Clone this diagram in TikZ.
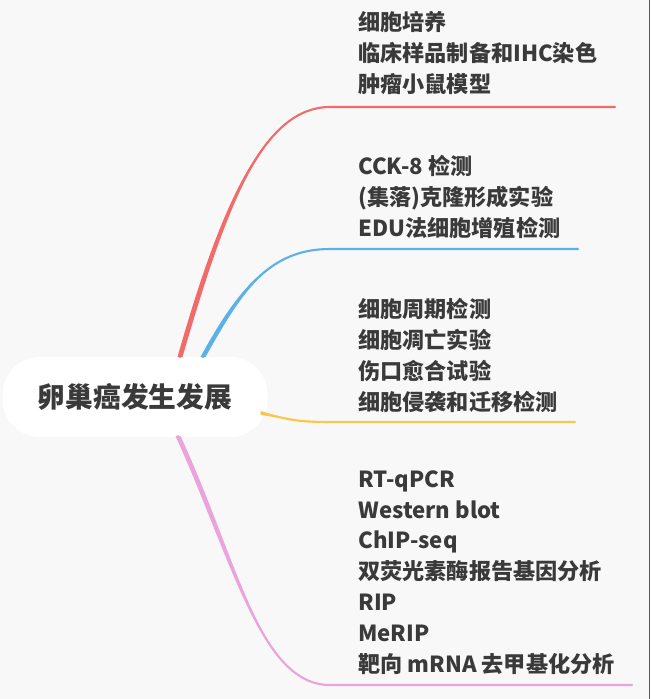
\documentclass[tikz,border=0pt]{standalone}
\usepackage{fontspec}
\setmainfont{Noto Sans CJK SC}
\definecolor{BgGray}{HTML}{F8F8F8}
\definecolor{TxtGray}{HTML}{3A3A3A}
\definecolor{BrRed}{HTML}{F26B6B}
\definecolor{BrBlue}{HTML}{5BB1E8}
\definecolor{BrYellow}{HTML}{F9C84A}
\definecolor{BrPink}{HTML}{EBA3DD}
\usepackage{tikz}

\begin{document}
\begin{tikzpicture}[x=0.02cm, y=-0.02cm,
        rootnode/.style={rectangle, fill=white, rounded corners=0.75cm, minimum width=5.3cm, minimum height=1.6cm, inner sep=0pt, text=TxtGray, font=\fontsize{15.8}{18}\selectfont\bfseries},
        leaf/.style={anchor=south west, inner sep=0pt, align=left, text depth=0pt, text=TxtGray, font=\fontsize{12.6}{17.6}\selectfont\bfseries},
        branch/.style={line width=1.2pt, line cap=round}
    ]
        % Background and right frame edge
        \fill[BgGray] (0,0) rectangle (650,699);
        \fill[black!65] (648.6,0) rectangle (650,699);
        \useasboundingbox (0,0) rectangle (650,699);

        % Root topic
        \node[rootnode] (root) at (135,397) {卵巢癌发生发展};

        % Branch starts on the root border
        \coordinate (r0) at (180,357);
        \coordinate (b0) at (203,357);
        \coordinate (y0) at (261,413);
        \coordinate (p0) at (178,436);

        % Branch ends and underline ends
        \coordinate (r1) at (330,107);  \coordinate (r2) at (615,107);
        \coordinate (b1) at (330,249);  \coordinate (b2) at (578,249);
        \coordinate (y1) at (345,422);  \coordinate (y2) at (575,422);
        \coordinate (p1) at (330,685);  \coordinate (p2) at (632,685);

        % Leaf topics
        \node[leaf] (culture) at (358,93) {细胞培养\\临床样品制备和IHC染色\\肿瘤小鼠模型};
        \node[leaf] (prolif) at (358,237) {CCK-8 检测\\(集落)克隆形成实验\\EDU法细胞增殖检测};
        \node[leaf] (migrate) at (358,411) {细胞周期检测\\细胞凋亡实验\\伤口愈合试验\\细胞侵袭和迁移检测};
        \node[leaf] (mechan) at (358,673) {RT-qPCR\\Western blot\\ChIP-seq\\双荧光素酶报告基因分析\\RIP\\MeRIP\\靶向 mRNA 去甲基化分析};

        % Red branch
        \fill[BrRed] ([xshift=-2.5*0.02cm]r0) .. controls (222,200) and (265,107) .. (r1)
            .. controls (265,107) and (228,200) .. ([xshift=2.5*0.02cm]r0) -- cycle;
        \draw[branch, BrRed] (r0) .. controls (225,200) and (265,107) .. (r1) -- (r2);
        % Blue branch
        \fill[BrBlue] ([xshift=-2.5*0.02cm]b0) .. controls (237,290) and (270,249) .. (b1)
            .. controls (270,249) and (243,290) .. ([xshift=2.5*0.02cm]b0) -- cycle;
        \draw[branch, BrBlue] (b0) .. controls (240,290) and (270,249) .. (b1) -- (b2);
        % Yellow branch
        \fill[BrYellow] ([yshift=2*0.02cm]y0) .. controls (300,423) .. (y1)
            .. controls (300,421) .. ([yshift=-2*0.02cm]y0) -- cycle;
        \draw[branch, BrYellow] (y0) .. controls (300,422) .. (y1) -- (y2);
        % Pink branch
        \fill[BrPink] ([xshift=-2.5*0.02cm]p0) .. controls (232,560) and (260,685) .. (p1)
            .. controls (260,685) and (238,560) .. ([xshift=2.5*0.02cm]p0) -- cycle;
        \draw[branch, BrPink] (p0) .. controls (235,560) and (260,685) .. (p1) -- (p2);
    \end{tikzpicture}
\end{document}
